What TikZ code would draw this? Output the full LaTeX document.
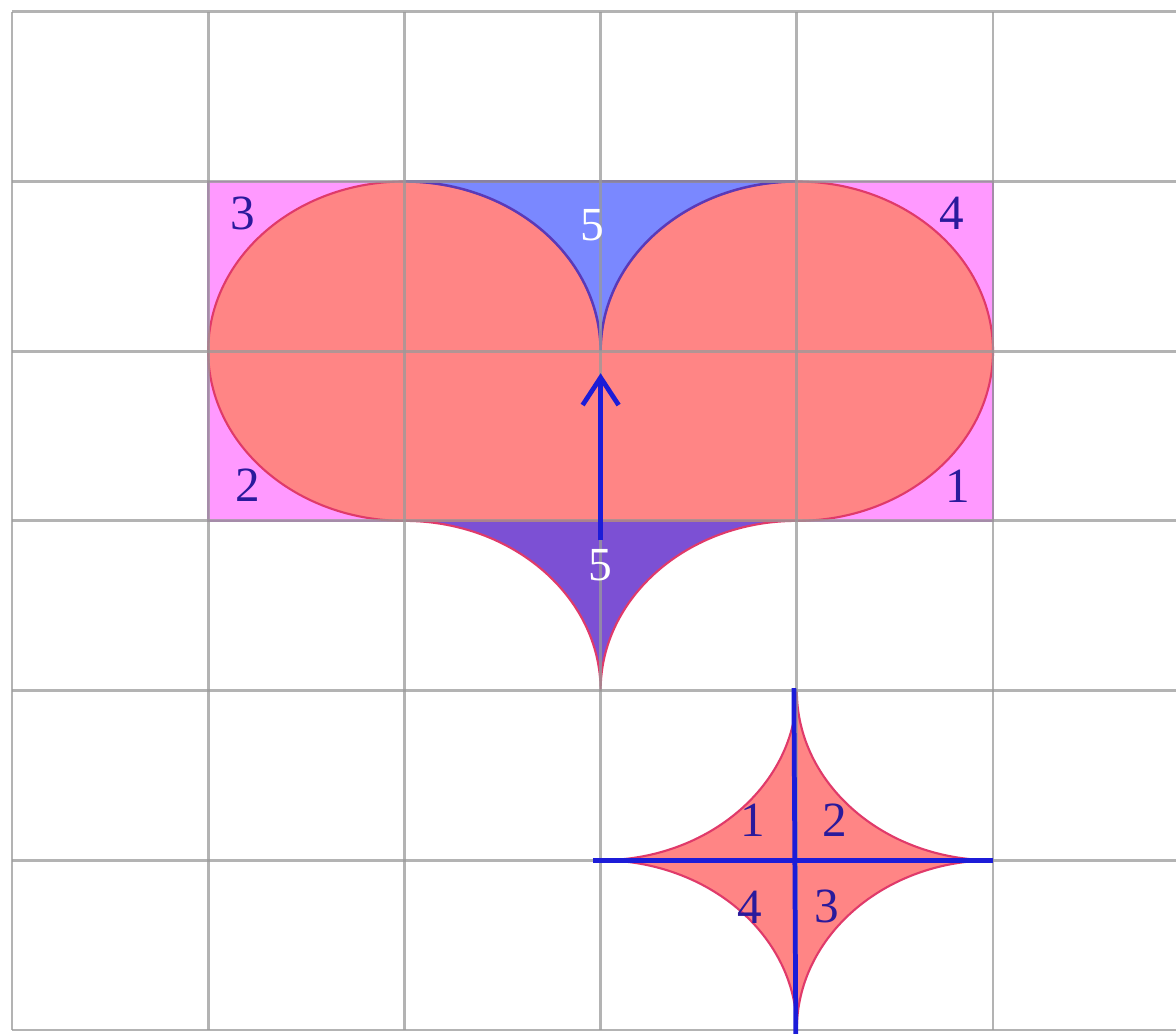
\documentclass[tikz,border=0pt]{standalone}
\usepackage{fontspec}
\setmainfont{Liberation Serif}
\usetikzlibrary{arrows.meta}
\definecolor{salmon}{HTML}{FF8585}
\definecolor{pinkrect}{HTML}{FF99FF}
\definecolor{rectline}{HTML}{C866D8}
\definecolor{bluetop}{HTML}{7A88FF}
\definecolor{topline}{HTML}{5A3AB8}
\definecolor{purplebot}{HTML}{7C50D4}
\definecolor{redline}{HTML}{E03A6A}
\definecolor{labblue}{HTML}{2A1A9C}
\definecolor{arrowblue}{HTML}{1C1CD8}
\definecolor{gridgray}{HTML}{9A9A9A}
\begin{document}
\begin{tikzpicture}[x=3.924cm,y=3.394cm,
  ell/.style={x radius=3.924cm,y radius=3.394cm},
  gridline/.style={draw=gridgray, line width=1.6pt, draw opacity=0.75},
  redshape/.style={fill=salmon, draw=redline, line width=1.2pt},
  lab/.style={text=labblue, font=\fontsize{28}{30}\selectfont, inner sep=0pt},
  wlab/.style={text=white, font=\fontsize{27}{30}\selectfont, inner sep=0pt},
  bluestroke/.style={draw=arrowblue, line width=2.7pt}]
\useasboundingbox (-0.0612,-0.0236) rectangle (5.9327,6.0695);
\fill[white] (-0.0612,-0.0236) rectangle (5.9327,6.0695);
% pink rectangle
\filldraw[fill=pinkrect, draw=rectline, line width=1pt] (1,3) rectangle (5,5);
% heart
\filldraw[redshape] (2,3) arc[ell,start angle=270,end angle=0]
  arc[ell,start angle=180,end angle=-90] -- cycle;
% top cusp piece
\filldraw[fill=bluetop, draw=topline, line width=1.4pt] (2,5) arc[ell,start angle=90,end angle=0]
  arc[ell,start angle=180,end angle=90] -- cycle;
% bottom cusp piece
\filldraw[fill=purplebot, draw=redline, line width=1.2pt] (2,3) arc[ell,start angle=90,end angle=0]
  arc[ell,start angle=180,end angle=90] -- cycle;
% star
\filldraw[redshape] (3,1) arc[ell,start angle=270,end angle=360]
  arc[ell,start angle=180,end angle=270]
  arc[ell,start angle=90,end angle=180]
  arc[ell,start angle=0,end angle=90] -- cycle;
% grid
\foreach \i in {0,...,5} \draw[gridline] (\i,0) -- (\i,6);
\foreach \j in {0,...,6} \draw[gridline] (0,\j) -- (5.94,\j);
% arrow
\coordinate (atail) at (3,2.885);
\coordinate (ahead) at (3,3.87);
\draw[bluestroke, -{Straight Barb[length=0.55cm,width=0.72cm,line width=2.7pt]}] (atail) -- (ahead);
% star cross
\coordinate (sl) at (2.96,1);
\coordinate (sr) at (5,1);
\coordinate (st) at (3.985,2.015);
\coordinate (sb) at (3.995,-0.03);
\draw[bluestroke] (sl) -- (sr);
\draw[bluestroke] (st) -- (sb);
% labels
\node[lab] (c3) at (1.178,4.81) {3};
\node[lab] (c4) at (4.791,4.81) {4};
\node[lab] (c2) at (1.203,3.21) {2};
\node[lab] (c1) at (4.82,3.206) {1};
\node[wlab] (t5) at (2.956,4.744) {5};
\node[wlab] (b5) at (2.997,2.74) {5};
\node[lab] (s1) at (3.777,1.237) {1};
\node[lab] (s2) at (4.195,1.237) {2};
\node[lab] (s4) at (3.761,0.725) {4};
\node[lab] (s3) at (4.154,0.725) {3};
\end{tikzpicture}
\end{document}
